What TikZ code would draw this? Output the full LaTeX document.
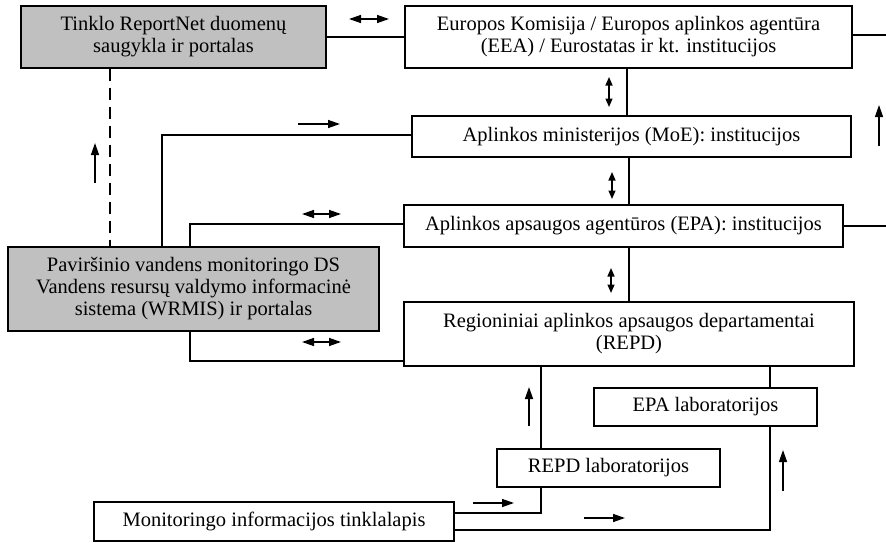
\documentclass[tikz,border=0pt]{standalone}
\usepackage{fontspec}
\setmainfont{Liberation Serif}
\usetikzlibrary{arrows.meta}
\definecolor{boxgrey}{RGB}{192,192,192}
\begin{document}
\begin{tikzpicture}[x=1pt,y=-1pt,
  box/.style={draw,line width=1.2pt,inner sep=0pt,align=center,
    font=\fontsize{20.5}{22}\selectfont,minimum width=#1},
  greybox/.style={box=#1,fill=boxgrey},
  conn/.style={line width=1.2pt},
  arr/.style={line width=1.4pt,-{Triangle[length=12pt,width=8pt]}},
  darr/.style={line width=1.4pt,{Triangle[length=12pt,width=8pt]}-{Triangle[length=12pt,width=8pt]}},
  vdarr/.style={line width=1.4pt,{Triangle[length=8.5pt,width=7pt]}-{Triangle[length=8.5pt,width=7pt]}}]
\useasboundingbox (0,0) rectangle (886,543);
% boxes
\node[greybox=305pt,minimum height=62pt] (tinklo) at (173.5,37) {Tinklo ReportNet duomenų\\saugykla ir portalas};
\node[box=447pt,minimum height=62pt] (eea) at (628.5,37) {Europos Komisija / Europos aplinkos agentūra\\(EEA) / Eurostatas ir kt. institucijos};
\node[box=439pt,minimum height=41pt] (moe) at (631.5,136.5) {Aplinkos ministerijos (MoE): institucijos};
\node[box=439pt,minimum height=42pt] (epa) at (623.5,226) {Aplinkos apsaugos agentūros (EPA): institucijos};
\node[greybox=371pt,minimum height=84pt] (wrmis) at (193.5,289) {Paviršinio vandens monitoringo DS\\Vandens resursų valdymo informacinė\\sistema (WRMIS) ir portalas};
\node[box=450pt,minimum height=64pt] (repd) at (629,334) {Regioniniai aplinkos apsaugos departamentai\\(REPD)};
\node[box=223pt,minimum height=38pt] (epalab) at (705.5,407) {EPA laboratorijos};
\node[box=223pt,minimum height=38pt] (repdlab) at (608.5,468) {REPD laboratorijos};
\node[box=360pt,minimum height=39pt] (mon) at (274,521.5) {Monitoringo informacijos tinklalapis};
% edge coordinates
\coordinate (r1) at (886,35);
\coordinate (r2) at (886,226);
% connectors
\draw[conn] (tinklo.east) -- (eea.west);
\draw[conn] (eea.east |- r1) -- (r1);
\draw[conn] (epa.east |- r2) -- (r2);
\draw[conn] (eea.south -| 627,0) -- (moe.north -| 627,0);
\draw[conn] (moe.south -| 629,0) -- (epa.north -| 629,0);
\draw[conn] (epa.south -| 629,0) -- (repd.north -| 629,0);
\draw[conn] (moe.west |- 0,135) -- (162,135) -- (wrmis.north -| 162,0);
\draw[conn] (epa.west |- 0,224) -- (190,224) -- (wrmis.north -| 190,0);
\draw[conn] (wrmis.south -| 190,0) -- (190,361) -- (repd.west |- 0,361);
\draw[conn,dash pattern=on 12pt off 7pt] (tinklo.south -| 110,0) -- (wrmis.north -| 110,0);
\draw[conn] (repd.south -| 541,0) -- (repdlab.north -| 541,0);
\draw[conn] (repd.south -| 770,0) -- (epalab.north -| 770,0);
\draw[conn] (repdlab.south -| 541,0) -- (541,513) -- (mon.east |- 0,513);
\draw[conn] (mon.east |- 0,530) -- (770,530) -- (epalab.south -| 770,0);
% free arrows
\draw[darr] (349,19) -- (389,19);
\draw[vdarr] (609,77) -- (609,107);
\draw[arr] (298,124) -- (340,124);
\draw[darr] (302,214) -- (341,214);
\draw[arr] (879,146) -- (879,105);
\draw[arr] (95,183) -- (95,143);
\draw[vdarr] (612,172) -- (612,199);
\draw[darr] (302,342) -- (341,342);
\draw[vdarr] (611,268) -- (611,293);
\draw[arr] (529,426) -- (529,387);
\draw[arr] (473,503) -- (514,503);
\draw[arr] (584,518) -- (625,518);
\draw[arr] (783,491) -- (783,450);
\end{tikzpicture}
\end{document}
